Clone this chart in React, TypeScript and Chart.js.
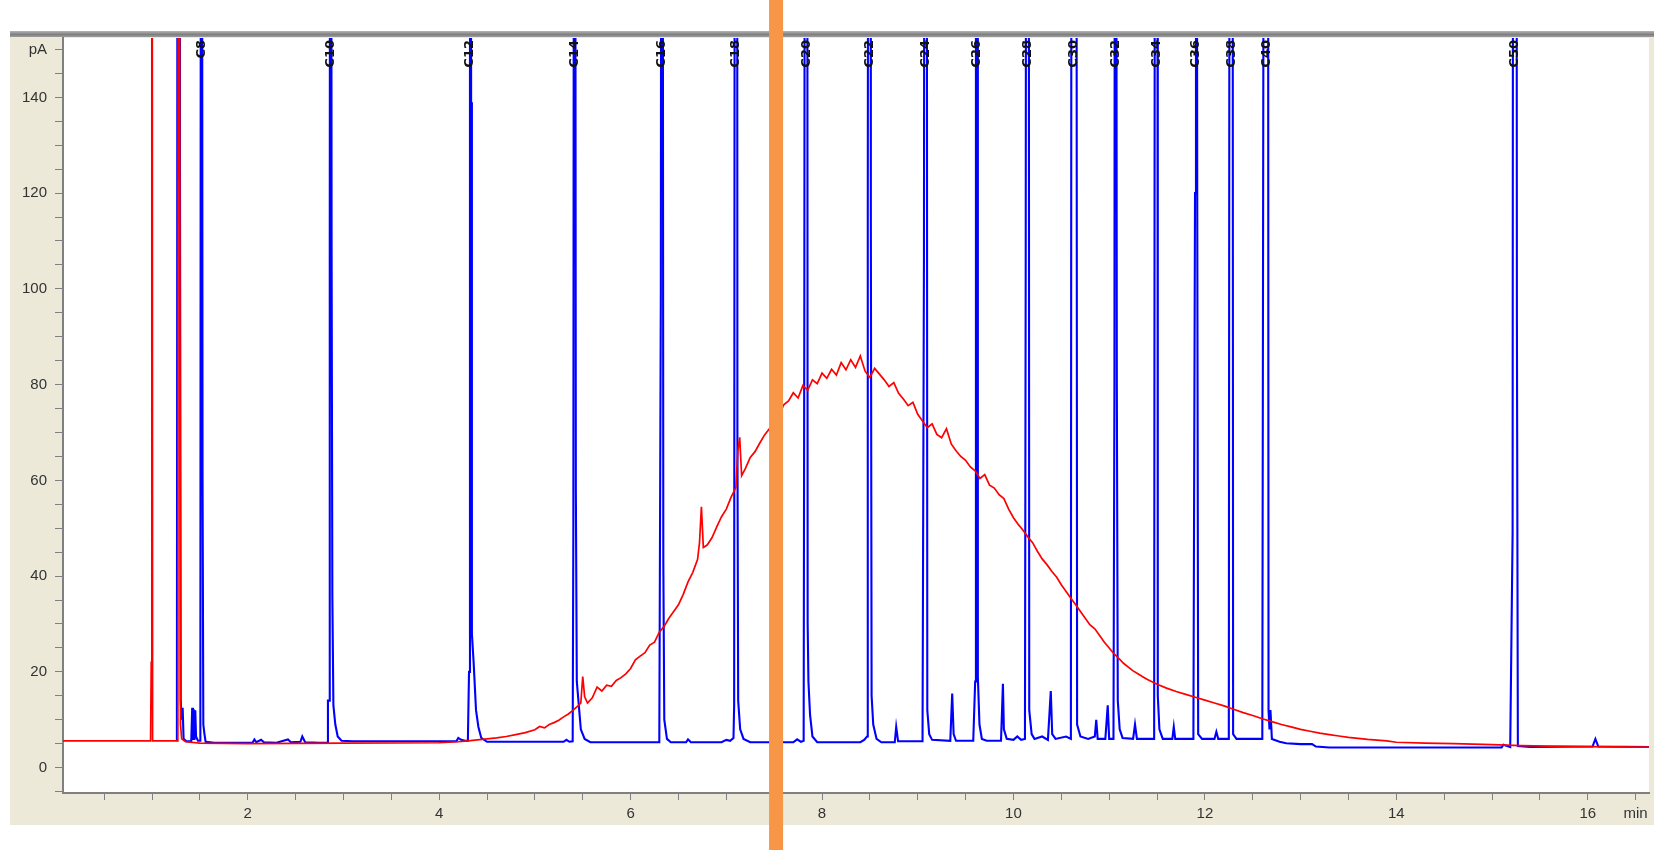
import { useEffect, useRef } from "react";
import { Chart, registerables } from "chart.js";

Chart.register(...registerables);

// ---- axis ranges & ticks ----
const X_MIN = 0.07;
const X_MAX = 16.64;
const Y_MIN = -5.3;
const Y_MAX = 152.4;
const xTickValues: number[] = [0.5, 1, 1.5, 2, 2.5, 3, 3.5, 4, 4.5, 5, 5.5, 6, 6.5, 7, 7.5, 8, 8.5, 9, 9.5, 10, 10.5, 11, 11.5, 12, 12.5, 13, 13.5, 14, 14.5, 15, 15.5, 16, 16.5];
const xLabelValues: number[] = [2, 4, 6, 8, 10, 12, 14, 16];
const xUnit = { value: 16.5, text: "min" };
const yTickValues: number[] = [-5, 0, 5, 10, 15, 20, 25, 30, 35, 40, 45, 50, 55, 60, 65, 70, 75, 80, 85, 90, 95, 100, 105, 110, 115, 120, 125, 130, 135, 140, 145, 150];
const yLabelValues: number[] = [0, 20, 40, 60, 80, 100, 120, 140];
const yUnit = { value: 150, text: "pA" };

// ---- peak annotations ----
const peakNames: string[] = ["C8", "C10", "C12", "C14", "C16", "C18", "C20", "C22", "C24", "C26", "C28", "C30", "C32", "C34", "C36", "C38", "C40", "C50"];
const peakTimes: number[] = [1.515, 2.866, 4.322, 5.414, 6.328, 7.102, 7.835, 8.496, 9.084, 9.614, 10.147, 10.632, 11.065, 11.492, 11.907, 12.275, 12.642, 15.237];

// vertical marker (min)
const markerTime = 7.52;

// ---- blue trace (FID, standard) [min, pA] ----
const blueTrace: [number, number][] = [
  [1.26, 5.5], [1.272, 400], [1.285, 400], [1.292, 128], [1.3, 14], [1.31, 10], [1.32, 12.5], [1.33, 6], [1.36, 5.5],
  [1.41, 5.5], [1.42, 12.5], [1.428, 5.8], [1.436, 12.2], [1.444, 5.8], [1.452, 12], [1.46, 6.5], [1.48, 5.6],
  [1.505, 5.6], [1.515, 400], [1.528, 60], [1.536, 9], [1.548, 7], [1.56, 5.4], [1.65, 5.2],
  [2.05, 5.2], [2.07, 5.9], [2.09, 5.3], [2.14, 5.8], [2.17, 5.3], [2.3, 5.2], [2.42, 5.9], [2.45, 5.3], [2.55, 5.4], [2.57, 6.5], [2.6, 5.3], [2.75, 5.2],
  [2.83, 5.2], [2.838, 14], [2.85, 14], [2.857, 110], [2.866, 400], [2.876, 110], [2.884, 36], [2.895, 13], [2.915, 9], [2.94, 6.5], [2.98, 5.6], [3.1, 5.5],
  [4.18, 5.5], [4.2, 6.2], [4.23, 5.8], [4.27, 5.6], [4.3, 5.6], [4.312, 20], [4.322, 400], [4.334, 139], [4.342, 28], [4.36, 22], [4.385, 12], [4.41, 8.5], [4.44, 6.2], [4.5, 5.4],
  [5.3, 5.4], [5.33, 5.8], [5.36, 5.4], [5.395, 5.5], [5.402, 50], [5.414, 400], [5.428, 58], [5.438, 18], [5.455, 14], [5.48, 8], [5.52, 6], [5.58, 5.3],
  [6.3, 5.3], [6.316, 100], [6.328, 400], [6.342, 43], [6.352, 10], [6.38, 6], [6.42, 5.3], [6.58, 5.3], [6.6, 5.9], [6.63, 5.3],
  [6.95, 5.3], [7.0, 5.8], [7.04, 5.6], [7.075, 6.2], [7.082, 13], [7.094, 400], [7.11, 400], [7.116, 70], [7.124, 14], [7.145, 8], [7.18, 6], [7.25, 5.3],
  [7.7, 5.3], [7.74, 5.9], [7.78, 5.4], [7.808, 5.6], [7.815, 95], [7.828, 400], [7.842, 400], [7.85, 30], [7.858, 18], [7.875, 11], [7.9, 6.5], [7.95, 5.3],
  [8.4, 5.3], [8.44, 5.8], [8.47, 6.5], [8.478, 115], [8.49, 400], [8.502, 400], [8.51, 115], [8.518, 15], [8.535, 9], [8.57, 6], [8.62, 5.3],
  [8.76, 5.3], [8.775, 8.5], [8.795, 5.5], [9.05, 5.5], [9.065, 107], [9.078, 400], [9.09, 400], [9.1, 12], [9.12, 7], [9.15, 5.8],
  [9.34, 5.6], [9.36, 15.5], [9.375, 7], [9.4, 5.6], [9.58, 5.6], [9.6, 18], [9.608, 400], [9.62, 400], [9.628, 19], [9.645, 9], [9.67, 6], [9.72, 5.6],
  [9.87, 5.6], [9.89, 17.5], [9.9, 8], [9.93, 6], [10.0, 5.8], [10.04, 6.5], [10.08, 5.8], [10.12, 6], [10.128, 105], [10.14, 400], [10.155, 400], [10.165, 12], [10.19, 7], [10.22, 6],
  [10.3, 6.5], [10.36, 5.8], [10.39, 16], [10.405, 7], [10.44, 6], [10.55, 6.5], [10.6, 6], [10.612, 400], [10.652, 400], [10.665, 9], [10.7, 6.5], [10.78, 6],
  [10.85, 6.5], [10.865, 10], [10.88, 6], [10.96, 6], [10.985, 13], [11.0, 6], [11.045, 6], [11.055, 80], [11.065, 400], [11.08, 80], [11.09, 14], [11.11, 8], [11.14, 6.2],
  [11.25, 6], [11.27, 9], [11.29, 6], [11.47, 6], [11.485, 400], [11.5, 400], [11.508, 15], [11.525, 8], [11.56, 6], [11.66, 6], [11.675, 8.5], [11.69, 6],
  [11.88, 6], [11.897, 120], [11.907, 400], [11.92, 120], [11.93, 7], [11.97, 6], [12.1, 6], [12.12, 7.5], [12.14, 6],
  [12.25, 6], [12.265, 400], [12.285, 400], [12.295, 7], [12.33, 6], [12.6, 6], [12.63, 400], [12.655, 400], [12.665, 12], [12.675, 8], [12.685, 12], [12.7, 6],
  [12.78, 5.4], [12.85, 5.1], [13.0, 4.9], [13.12, 4.9], [13.16, 4.4], [13.3, 4.2], [15.1, 4.2], [15.12, 4.8], [15.19, 4.3],
  [15.215, 49], [15.225, 400], [15.25, 400], [15.26, 93], [15.27, 4.5], [15.4, 4.3], [16.05, 4.4], [16.08, 6], [16.11, 4.4], [16.64, 4.3],
];

// ---- red trace (FID, sample hump) [min, pA] ----
const redTrace: [number, number][] = [
  [0.07, 5.6], [0.985, 5.6], [0.992, 22], [0.998, 400], [1.006, 5.6], [1.27, 5.6], [1.278, 400], [1.29, 128], [1.298, 9], [1.31, 6], [1.35, 5.4],
  [1.5, 5.1], [2.0, 5.0], [3.0, 5.1], [4.0, 5.2], [4.2, 5.4], [4.3, 5.6], [4.4, 5.8], [4.5, 6.0], [4.6, 6.2], [4.7, 6.5], [4.8, 6.9], [4.9, 7.3],
  [5.0, 7.9], [5.05, 8.6], [5.1, 8.3], [5.15, 9.0], [5.2, 9.4], [5.25, 9.9], [5.3, 10.6], [5.35, 11.2], [5.4, 12.0], [5.45, 12.9], [5.48, 13.5],
  [5.5, 19.0], [5.52, 14.8], [5.55, 13.5], [5.6, 14.6], [5.65, 16.8], [5.7, 16.0], [5.75, 17.2], [5.8, 17.0], [5.85, 18.2], [5.9, 18.8], [5.95, 19.6],
  [6.0, 20.7], [6.05, 22.5], [6.1, 23.3], [6.15, 24.0], [6.2, 25.6], [6.25, 26.2], [6.3, 28.3], [6.35, 29.5], [6.4, 31.2], [6.45, 32.6], [6.5, 34.0],
  [6.55, 36.2], [6.6, 38.8], [6.65, 40.8], [6.7, 43.5], [6.72, 47], [6.74, 54.5], [6.76, 46], [6.8, 46.5], [6.85, 48.0], [6.9, 50.3], [6.95, 52.4],
  [7.0, 54.0], [7.05, 56.5], [7.1, 58.5], [7.12, 66], [7.14, 69], [7.16, 61], [7.2, 62.5], [7.25, 64.8], [7.3, 66.0], [7.35, 67.8], [7.4, 69.5],
  [7.45, 70.8], [7.5, 72.0], [7.55, 73.5], [7.6, 75.8], [7.65, 76.6], [7.7, 78.3], [7.75, 77.2], [7.8, 79.8], [7.85, 78.8], [7.9, 81.0], [7.95, 80.2],
  [8.0, 82.4], [8.05, 81.3], [8.1, 83.2], [8.15, 82.0], [8.2, 84.6], [8.25, 83.1], [8.3, 85.2], [8.35, 83.6], [8.4, 86.0], [8.45, 82.8], [8.5, 81.5],
  [8.55, 83.4], [8.6, 82.2], [8.65, 81.0], [8.7, 79.6], [8.75, 80.4], [8.8, 78.2], [8.85, 77.0], [8.9, 75.6], [8.95, 76.3], [9.0, 73.8], [9.05, 72.4],
  [9.1, 71.0], [9.15, 71.8], [9.2, 69.6], [9.25, 68.9], [9.3, 70.8], [9.35, 67.6], [9.4, 66.2], [9.45, 65.0], [9.5, 64.2], [9.55, 62.8], [9.6, 62.0],
  [9.65, 60.4], [9.7, 61.2], [9.75, 59.0], [9.8, 58.4], [9.85, 57.0], [9.9, 56.2], [9.95, 54.0], [10.0, 52.2], [10.05, 50.8], [10.1, 49.6], [10.15, 48.2],
  [10.2, 47.0], [10.25, 45.2], [10.3, 43.6], [10.35, 42.4], [10.4, 41.0], [10.45, 39.8], [10.5, 38.2], [10.55, 36.8], [10.6, 35.4], [10.65, 34.0],
  [10.7, 32.6], [10.75, 31.2], [10.8, 29.8], [10.85, 29.0], [10.9, 27.6], [10.95, 26.2], [11.0, 25.0], [11.05, 23.8], [11.1, 22.8], [11.15, 21.8],
  [11.2, 21.0], [11.25, 20.2], [11.3, 19.6], [11.35, 19.0], [11.4, 18.4], [11.5, 17.4], [11.6, 16.6], [11.7, 15.9], [11.8, 15.3], [11.9, 14.7],
  [12.0, 14.1], [12.1, 13.5], [12.2, 12.9], [12.3, 12.2], [12.4, 11.5], [12.5, 10.9], [12.6, 10.2], [12.7, 9.6], [12.8, 9.0], [12.9, 8.5], [13.0, 8.0],
  [13.1, 7.6], [13.2, 7.2], [13.3, 6.9], [13.4, 6.6], [13.5, 6.3], [13.7, 5.9], [13.9, 5.6], [14.0, 5.3], [14.3, 5.1], [14.6, 5.0], [15.0, 4.8],
  [15.3, 4.6], [15.6, 4.5], [16.0, 4.4], [16.64, 4.3],
];

const W = 1663;
const H = 850;

export default function App() {
  const ref = useRef<HTMLCanvasElement>(null);

  useEffect(() => {
    document.body.style.margin = "0";
    const canvas = ref.current;
    if (!canvas) return;

    const bgPlugin = {
      id: "bgPanel",
      beforeDraw(chart: any) {
        const { ctx, chartArea: a } = chart;
        ctx.save();
        ctx.fillStyle = "#ffffff";
        ctx.fillRect(0, 0, W, H);
        ctx.fillStyle = "#ECE9D8";
        ctx.fillRect(10, 37, 1644, 788);
        const g = ctx.createLinearGradient(0, 31, 0, 38);
        g.addColorStop(0, "#b5b5b5");
        g.addColorStop(0.5, "#7f7f7f");
        g.addColorStop(1, "#a8a8a8");
        ctx.fillStyle = g;
        ctx.fillRect(10, 31, 1644, 6);
        ctx.fillStyle = "#ffffff";
        ctx.fillRect(a.left, a.top, a.right - a.left, a.bottom - a.top);
        ctx.restore();
      },
    };

    const labelPlugin = {
      id: "peakLabels",
      afterDatasetsDraw(chart: any) {
        const { ctx, chartArea: a } = chart;
        const xs = chart.scales.x;
        ctx.save();
        ctx.fillStyle = "#111111";
        ctx.font = "bold 13px 'DejaVu Sans', sans-serif";
        ctx.textAlign = "right";
        ctx.textBaseline = "middle";
        peakNames.forEach((name, i) => {
          const px = xs.getPixelForValue(peakTimes[i]);
          ctx.save();
          ctx.translate(px, a.top + 2);
          ctx.rotate(-Math.PI / 2);
          ctx.fillText(name, 0, 0);
          ctx.restore();
        });
        ctx.restore();
      },
    };

    const markerPlugin = {
      id: "marker",
      afterDraw(chart: any) {
        const { ctx } = chart;
        const px = chart.scales.x.getPixelForValue(markerTime);
        ctx.save();
        ctx.fillStyle = "#F79646";
        ctx.fillRect(px - 7, 0, 14, H);
        ctx.restore();
      },
    };

    const tickFont = { family: "'Liberation Sans', Arial, sans-serif", size: 15 };

    const chart = new Chart(canvas, {
      type: "line",
      data: {
        datasets: [
          {
            label: "sample",
            data: redTrace.map(([x, y]) => ({ x, y })),
            borderColor: "#ff0000",
            borderWidth: 1.7,
            pointRadius: 0,
            tension: 0,
            order: 0,
          },
          {
            label: "standard",
            data: blueTrace.map(([x, y]) => ({ x, y })),
            borderColor: "#0000ff",
            borderWidth: 2.1,
            pointRadius: 0,
            tension: 0,
            order: 1,
          },
        ],
      },
      options: {
        responsive: false,
        devicePixelRatio: 1,
        animation: false,
        events: [],
        layout: { padding: { left: 0, top: 38, right: 14, bottom: 0 } },
        plugins: { legend: { display: false }, tooltip: { enabled: false } },
        scales: {
          x: {
            type: "linear",
            min: X_MIN,
            max: X_MAX,
            afterBuildTicks: (scale: any) => {
              scale.ticks = xTickValues.map((v) => ({ value: v }));
            },
            afterFit: (scale: any) => {
              scale.height = 57;
            },
            grid: { display: true, drawOnChartArea: false, drawTicks: true, tickLength: 7, color: "#808080", lineWidth: 1 },
            border: { display: true, color: "#808080", width: 2 },
            ticks: {
              autoSkip: false,
              maxRotation: 0,
              padding: 5,
              color: "#333333",
              font: tickFont,
              callback: (v: any) => {
                const n = Number(v);
                if (Math.abs(n - xUnit.value) < 1e-6) return xUnit.text;
                return xLabelValues.includes(n) ? String(n) : "";
              },
            },
          },
          y: {
            type: "linear",
            min: Y_MIN,
            max: Y_MAX,
            afterBuildTicks: (scale: any) => {
              scale.ticks = yTickValues.map((v) => ({ value: v }));
            },
            afterFit: (scale: any) => {
              scale.width = 63;
            },
            grid: { display: true, drawOnChartArea: false, drawTicks: true, tickLength: 8, color: "#808080", lineWidth: 1 },
            border: { display: true, color: "#808080", width: 2 },
            ticks: {
              autoSkip: false,
              padding: 8,
              color: "#333333",
              font: tickFont,
              callback: (v: any) => {
                const n = Number(v);
                if (n === yUnit.value) return yUnit.text;
                return yLabelValues.includes(n) ? String(n) : "";
              },
            },
          },
        },
      },
      plugins: [bgPlugin, labelPlugin, markerPlugin],
    } as any);

    return () => chart.destroy();
  }, []);

  return (
    <div style={{ position: "fixed", left: 0, top: 0, width: W, height: H, background: "#fff" }}>
      <canvas ref={ref} width={W} height={H} style={{ display: "block", width: W, height: H }} />
    </div>
  );
}
